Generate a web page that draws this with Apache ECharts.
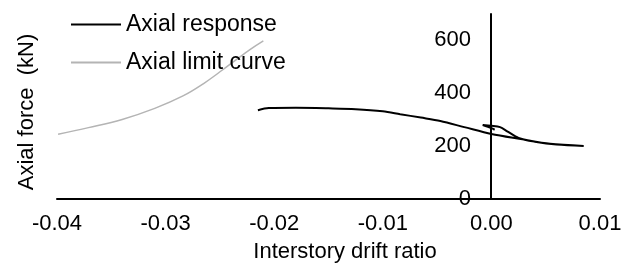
<!DOCTYPE html>
<html>
<head>
<meta charset="utf-8">
<script src="https://cdn.jsdelivr.net/npm/echarts@6/dist/echarts.min.js"></script>
<style>
html, body { margin: 0; padding: 0; background: #fff; }
#chart { width: 631px; height: 267px; }
</style>
</head>
<body>
<div id="chart"></div>
<script>
// drift ratio / axial force (kN)
var responseDrift = [-0.0215, -0.0205, -0.018, -0.015, -0.0125, -0.010, -0.0084, -0.0065, -0.0047, -0.0025, 0.0, 0.0027, 0.0054, 0.0085,
                     0.006, 0.004, 0.0025, 0.0015, 0.0008, 0.0, -0.0008, 0.0, 0.0003];
var responseForce = [336, 344, 345, 343, 340, 332, 321, 308, 295, 272, 246, 227, 209, 201,
                     206, 217, 231, 255, 272, 277, 280, 268, 262];

var limitDrift = [-0.0399, -0.0371, -0.0340, -0.0310, -0.0284, -0.0265, -0.0247, -0.0234, -0.0222, -0.0210];
var limitForce = [245, 270, 301, 343, 390, 437, 490, 530, 566, 598];

var xTicks = [-0.04, -0.03, -0.02, -0.01, 0.00, 0.01];
var yTicks = [0, 200, 400, 600];

function pairs(xs, ys) {
    var out = [];
    for (var i = 0; i < xs.length; i++) out.push([xs[i], ys[i]]);
    return out;
}

var font = 'Liberation Sans, Arial, sans-serif';

var chart = echarts.init(document.getElementById('chart'));
chart.setOption({
    animation: false,
    backgroundColor: '#fff',
    grid: { left: 57, right: 31, top: 14, bottom: 68 },
    legend: {
        orient: 'vertical',
        left: 66,
        top: 8,
        icon: 'rect',
        itemWidth: 50,
        itemHeight: 2,
        itemGap: 15,
        textStyle: { fontFamily: font, fontSize: 23, color: '#000' },
        data: ['Axial response', 'Axial limit curve']
    },
    xAxis: {
        type: 'value',
        min: xTicks[0],
        max: xTicks[xTicks.length - 1],
        interval: 0.01,
        axisLine: { show: true, lineStyle: { color: '#000', width: 2 } },
        axisTick: { show: false },
        splitLine: { show: false },
        axisLabel: {
            margin: 14,
            fontFamily: font, fontSize: 22, color: '#000',
            formatter: function (v) { return v.toFixed(2); }
        }
    },
    yAxis: {
        type: 'value',
        min: yTicks[0],
        max: 700,
        interval: 200,
        // axis drawn at drift = 0 with its labels
        offset: -434,
        axisLine: { show: true, onZero: false, lineStyle: { color: '#000', width: 2 } },
        axisTick: { show: false },
        splitLine: { show: false },
        axisLabel: {
            margin: 20,
            showMaxLabel: false,
            fontFamily: font, fontSize: 22, color: '#000'
        }
    },
    graphic: [
        {
            type: 'text',
            x: 27, y: 112,
            rotation: Math.PI / 2,
            style: {
                text: 'Axial force  (kN)',
                font: '22px ' + font,
                fill: '#000',
                align: 'center',
                verticalAlign: 'middle'
            }
        },
        {
            type: 'text',
            x: 345, y: 252,
            style: {
                text: 'Interstory drift ratio',
                font: '22px ' + font,
                fill: '#000',
                align: 'center',
                verticalAlign: 'middle'
            }
        }
    ],
    series: [
        {
            name: 'Axial response',
            type: 'line',
            symbol: 'none',
            smooth: 0.3,
            lineStyle: { color: '#000', width: 2 },
            itemStyle: { color: '#000' },
            data: pairs(responseDrift, responseForce)
        },
        {
            name: 'Axial limit curve',
            type: 'line',
            symbol: 'none',
            smooth: 0.4,
            lineStyle: { color: '#b4b4b4', width: 1.5 },
            itemStyle: { color: '#b4b4b4' },
            data: pairs(limitDrift, limitForce)
        }
    ]
});
</script>
</body>
</html>
